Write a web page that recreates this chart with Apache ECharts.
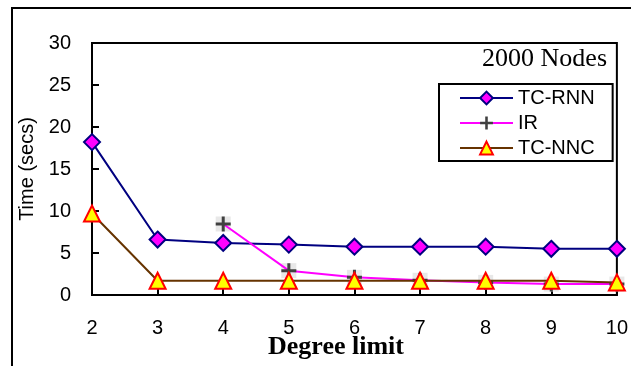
<!DOCTYPE html>
<html><head><meta charset="utf-8">
<script src="https://cdn.jsdelivr.net/npm/echarts@6/dist/echarts.min.js"></script>
<style>html,body{margin:0;padding:0;background:#fff}#c{width:631px;height:366px}</style>
</head><body><div id="c"></div>
<script>
const degrees = [2, 3, 4, 5, 6, 7, 8, 9, 10];
const tcRnn = [18.2, 6.6, 6.2, 6.0, 5.75, 5.75, 5.75, 5.5, 5.5];
const ir = [null, null, 8.45, 2.9, 2.1, 1.75, 1.5, 1.3, 1.3];
const tcNnc = [9.7, 1.7, 1.7, 1.7, 1.7, 1.7, 1.7, 1.7, 1.5];
const yTicks = [0, 5, 10, 15, 20, 25, 30];

const pairs = arr => degrees.map((d, i) => [d, arr[i]]).filter(p => p[1] !== null);
const plusPath = 'path://M4,0 L6,0 L6,4 L10,4 L10,6 L6,6 L6,10 L4,10 L4,6 L0,6 L0,4 L4,4 Z';
const sans = 'Liberation Sans, Arial, sans-serif';
const serif = 'Liberation Serif, Times New Roman, serif';

const chart = echarts.init(document.getElementById('c'));
chart.setOption({
  animation: false,
  backgroundColor: '#fff',
  grid: { left: 92, top: 43, right: 9, bottom: 71, show: true, borderColor: '#000', borderWidth: 2, containLabel: false },
  xAxis: {
    type: 'value', min: degrees[0], max: degrees[degrees.length - 1], interval: 1,
    axisLine: { lineStyle: { color: '#000', width: 2 } },
    axisTick: { inside: true, length: 7, lineStyle: { color: '#000', width: 2 } },
    axisLabel: { color: '#000', fontSize: 20, fontFamily: sans, margin: 23 },
    splitLine: { show: false }
  },
  yAxis: {
    type: 'value', min: yTicks[0], max: yTicks[yTicks.length - 1], interval: 5,
    name: 'Time (secs)', nameLocation: 'middle', nameRotate: 90, nameGap: 47,
    nameTextStyle: { color: '#000', fontSize: 20, fontFamily: sans },
    axisLine: { show: true, lineStyle: { color: '#000', width: 2 } },
    axisTick: { show: true, inside: true, length: 7, lineStyle: { color: '#000', width: 2 } },
    axisLabel: { color: '#000', fontSize: 20, fontFamily: sans, margin: 21 },
    splitLine: { show: false }
  },
  legend: {
    orient: 'vertical', left: 439, top: 84,
    borderColor: '#000', borderWidth: 2, borderRadius: 0,
    padding: [4, 18, 3, 20], itemGap: 5, itemWidth: 53, itemHeight: 16,
    textStyle: { color: '#000', fontSize: 20, fontFamily: sans, lineHeight: 20 },
    data: ['TC-RNN', 'IR', 'TC-NNC']
  },
  graphic: [
    { type: 'rect', shape: { x: 12, y: 8, width: 660, height: 420 }, style: { fill: 'none', stroke: '#000', lineWidth: 2 }, silent: true },
    { type: 'text', right: 24, top: 46, style: { text: '2000 Nodes', font: '26px ' + serif, fill: '#000', textAlign: 'right' } },
    { type: 'text', x: 336, y: 347, style: { text: 'Degree limit', font: 'bold 26px ' + serif, fill: '#000', textAlign: 'center', textVerticalAlign: 'middle' } }
  ],
  series: [
    {
      name: 'TC-RNN', type: 'line', data: pairs(tcRnn), z: 3,
      symbol: 'diamond', symbolSize: 16,
      lineStyle: { color: '#000080', width: 2 },
      itemStyle: { color: '#ff00ff', borderColor: '#000080', borderWidth: 2 }
    },
    {
      name: 'IRbg', type: 'scatter', data: pairs(ir), z: 2, silent: true,
      symbol: 'rect', symbolSize: 15, itemStyle: { color: '#e2e2e2' }
    },
    {
      name: 'IR', type: 'line', data: pairs(ir), z: 4,
      symbol: plusPath, symbolSize: 15,
      lineStyle: { color: '#ff00ff', width: 2 },
      itemStyle: { color: '#404040' }
    },
    {
      name: 'TC-NNC', type: 'line', data: pairs(tcNnc), z: 5,
      symbol: 'triangle', symbolSize: 16,
      lineStyle: { color: '#663300', width: 2 },
      itemStyle: { color: '#ffff00', borderColor: '#ff0000', borderWidth: 2 }
    }
  ]
});
</script></body></html>
